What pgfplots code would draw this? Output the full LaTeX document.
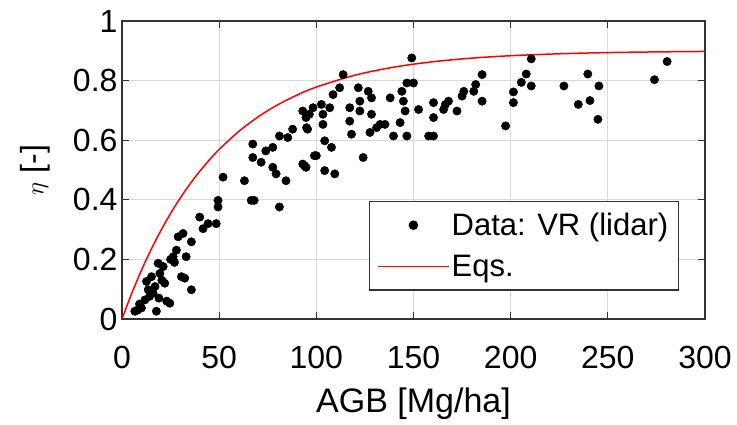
\documentclass[border=0pt]{standalone}
\usepackage{fontspec}
\setmainfont{Liberation Sans}
\usepackage{pgfplots}
\pgfplotsset{compat=1.18}
\begin{document}
\begin{tikzpicture}
\begin{axis}[
  width=583pt, height=298pt, scale only axis,
  xmin=0, xmax=300, ymin=0, ymax=1,
  xtick={0,50,100,150,200,250,300},
  ytick={0,0.2,0.4,0.6,0.8,1},
  yticklabels={0,0.2,0.4,0.6,0.8,1},
  /pgf/number format/assume math mode=true,
  font=\fontsize{32}{38}\selectfont,
  tick label style={font=\fontsize{32}{38}\selectfont},
  grid=major,
  grid style={black!15, line width=0.9pt},
  axis line style={black!80, line width=1.3pt},
  tick style={black!80, line width=1.1pt},
  major tick length=7pt,
  tick align=inside,
  xticklabel style={yshift=-24pt},
  yticklabel style={xshift=-1pt},
  xlabel={AGB [Mg/ha]},
  ylabel={$\eta$ [-]},
  xlabel style={font=\fontsize{34}{40}\selectfont, yshift=-12pt},
  ylabel style={font=\fontsize{32}{38}\selectfont, yshift=16pt},
  legend cell align=left,
  legend style={at={(0.955,0.397)}, anchor=north east,
    font=\fontsize{31}{36}\selectfont, draw=black!80, line width=1.1pt,
    inner xsep=8pt, inner ysep=10pt, row sep=14pt},
]
\addplot[only marks, mark=*, mark size=4.2pt, color=black,
  legend image code/.code={\fill[black] (1.25cm,0cm) circle (4.2pt);}]
  table {
x y
6.6 0.026
10 0.037
17.7 0.026
11.8 0.064
13.5 0.098
16 0.087
12.6 0.126
15.2 0.142
19.5 0.153
18.6 0.187
21.2 0.176
17 0.109
14.2 0.076
22 0.12
24.6 0.053
23 0.06
9 0.05
8 0.03
19 0.07
20.5 0.13
26.3 0.209
28 0.231
25 0.2
27 0.19
28.9 0.276
31.4 0.287
30.6 0.142
32.3 0.137
33 0.209
35.7 0.098
35.7 0.259
40 0.342
41.7 0.303
44.3 0.32
48.5 0.32
49.4 0.398
49.4 0.376
52 0.476
63 0.464
66.5 0.398
68 0.398
67.3 0.587
67.3 0.542
71.6 0.526
74 0.564
77.6 0.576
81 0.614
85.3 0.609
87.8 0.637
77.6 0.509
79.3 0.487
84.4 0.464
81 0.376
93 0.698
94.7 0.676
96.4 0.687
95.5 0.637
93 0.52
94.7 0.509
99 0.548
95 0.642
98.3 0.709
102.6 0.72
103.4 0.687
103.4 0.653
106.9 0.709
108.6 0.753
112 0.776
113.8 0.82
94 0.514
100 0.548
104.3 0.598
107.8 0.576
104.3 0.498
109.5 0.487
117.2 0.709
117.2 0.664
118.1 0.62
121.6 0.776
122.4 0.731
122.4 0.698
124.1 0.542
126.7 0.764
128.4 0.742
128.4 0.687
127.6 0.626
131 0.642
132.8 0.653
135.3 0.653
138 0.742
139.7 0.614
143.1 0.659
144 0.764
144.8 0.731
145.7 0.698
146.6 0.614
146.6 0.792
149.1 0.876
150 0.792
152.6 0.703
157.8 0.614
160.3 0.614
160.3 0.676
160.3 0.726
166.4 0.72
165.5 0.703
168 0.731
172.4 0.698
175 0.748
175.9 0.764
181 0.764
182 0.787
185.3 0.82
185.3 0.731
197.4 0.648
201.4 0.762
201.4 0.726
205.5 0.794
208 0.822
210.6 0.873
210.6 0.782
227.4 0.782
234.8 0.72
239.7 0.822
240.8 0.733
245.4 0.782
244.9 0.67
274 0.803
280.5 0.864
};
\addlegendentry{Data: VR (lidar)}
\addplot[red, line width=1.5pt, smooth,
  legend image code/.code={\draw[red, line width=1.5pt] (0cm,0cm) -- (2.5cm,0cm);}]
  coordinates {
(0,0) (5,0.0856) (10,0.1632) (15,0.2333) (20,0.2967) (25,0.3541)
(30,0.4061) (35,0.4531) (40,0.4956) (45,0.5341) (50,0.5689)
(60,0.6289) (70,0.6781) (80,0.7183) (90,0.7512) (100,0.7782)
(120,0.8184) (140,0.8453) (160,0.8633) (180,0.8754) (200,0.8835)
(225,0.8900) (250,0.8940) (275,0.8963) (300,0.8978)
};
\addlegendentry{Eqs.}
\end{axis}
\path (current axis.south west) ++(-122pt,-106pt) rectangle ++(737pt,425pt);
\end{tikzpicture}
\end{document}
